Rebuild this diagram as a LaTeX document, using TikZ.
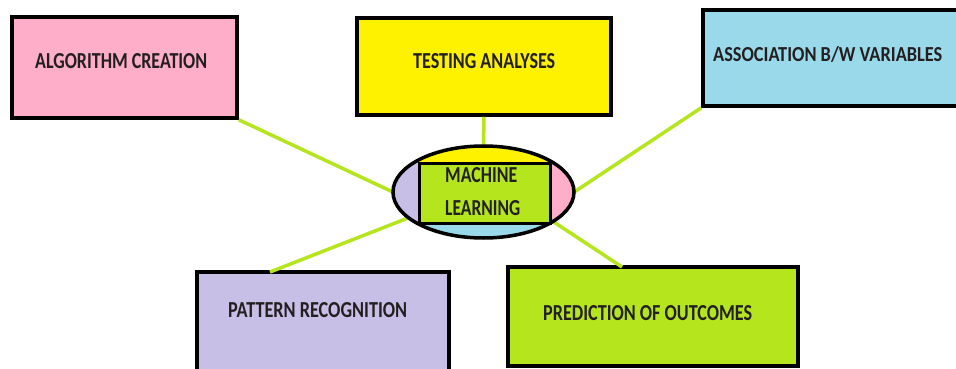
\documentclass[tikz,border=0pt]{standalone}
\usepackage{fontspec}
\setmainfont{Carlito}
\usetikzlibrary{shapes.geometric}
\definecolor{pinkc}{HTML}{FFAEC9}
\definecolor{yelc}{HTML}{FFF200}
\definecolor{bluec}{HTML}{99D9EA}
\definecolor{lavc}{HTML}{C8BFE7}
\definecolor{limec}{HTML}{B5E61D}
\definecolor{txtc}{HTML}{231F20}
\newcommand{\lbl}[2]{\resizebox{#1pt}{15pt}{\bfseries #2}}
\begin{document}
\begin{tikzpicture}[x=1pt,y=-1pt,
  box/.style={draw=black,line width=3.5pt,inner sep=0pt,rectangle},
  conn/.style={draw=limec,line width=3.5pt},
  lab/.style={anchor=base west,inner sep=0pt,text=txtc}]
\clip (0,0) rectangle (956,369);
\fill[white] (0,0) rectangle (956,369);
% boxes
\node[box,fill=pinkc,minimum width=225pt,minimum height=101pt] (alg) at (124.5,67.5) {};
\node[box,fill=yelc,minimum width=254pt,minimum height=97pt] (tst) at (484,66.5) {};
\node[box,fill=bluec,minimum width=272pt,minimum height=96pt] (asc) at (839,58) {};
\node[box,fill=lavc,minimum width=252pt,minimum height=100pt] (pat) at (323,322) {};
\node[box,fill=limec,minimum width=290pt,minimum height=99pt] (pre) at (653,316.5) {};
% labels
\node[lab] (algt) at (35,68) {\lbl{172}{ALGORITHM CREATION}};
\node[lab] (tstt) at (413,68) {\lbl{142}{TESTING ANALYSES}};
\node[lab] (asct) at (713,62) {\lbl{229}{ASSOCIATION B/W VARIABLES}};
\node[lab] (patt) at (228,317) {\lbl{179}{PATTERN RECOGNITION}};
\node[lab] (pret) at (543,320) {\lbl{209}{PREDICTION OF OUTCOMES}};
% central ellipse
\node[ellipse,minimum width=181pt,minimum height=92pt,inner sep=0pt] (ml) at (483.5,192) {};
\coordinate (patc) at (270,272);
\coordinate (prec) at (622,267);
% connectors
\draw[conn] (alg.south east) -- (ml.west);
\draw[conn] (tst.south) -- (ml.north);
\draw[conn] (asc.south west) -- (ml.east);
\draw[conn] (patc) -- (ml.199);
\draw[conn] (prec) -- (ml.337);
% ellipse fill pieces
\begin{scope}
\clip (483.5,192) ellipse (90.5pt and 46pt);
\fill[lavc] (390,140) rectangle (419,245);
\fill[pinkc] (550,140) rectangle (580,245);
\fill[yelc] (419,140) rectangle (550,163);
\fill[bluec] (419,223) rectangle (550,245);
\end{scope}
\node[draw=black,line width=3pt,fill=limec,inner sep=0pt,minimum width=131pt,minimum height=60pt] (mlb) at (484.5,193) {};
\node[lab] (mlt1) at (445,182) {\lbl{72}{MACHINE}};
\node[lab] (mlt2) at (445,215) {\lbl{75}{LEARNING}};
\draw[black,line width=3.5pt] (ml.center) ellipse (90.5pt and 46pt);
\end{tikzpicture}
\end{document}
